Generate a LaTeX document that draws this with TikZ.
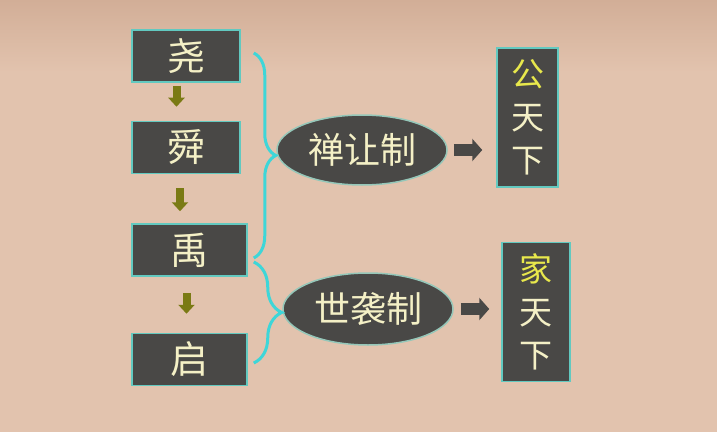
\documentclass[tikz,border=0pt]{standalone}
\usepackage{fontspec}
\setmainfont{Noto Sans CJK SC}
\usetikzlibrary{arrows.meta,decorations.pathreplacing,shapes.geometric}
\definecolor{paper}{HTML}{E2C3AE}
\definecolor{haze}{HTML}{D2AE97}
\definecolor{slate}{HTML}{494846}
\definecolor{rim}{HTML}{62C9C0}
\definecolor{cream}{HTML}{F4F0C6}
\definecolor{gold}{HTML}{E8E84C}
\definecolor{olivegreen}{HTML}{7A7A14}
\definecolor{bracecyan}{HTML}{3ED6D8}

\begin{document}
\begin{tikzpicture}[x=1pt,y=1pt,
    king/.style={draw=rim,line width=1.5pt,fill=slate,text=cream,
                 minimum width=108pt,minimum height=52pt,inner sep=0pt,
                 font=\fontsize{38}{44}\selectfont},
    system/.style={ellipse,draw=rim!60!paper,line width=1.5pt,fill=slate,text=cream,
                   minimum width=170pt,minimum height=70pt,inner sep=0pt,
                   font=\fontsize{36}{42}\selectfont},
    realm/.style={draw=rim,line width=1.5pt,fill=slate,text=cream,
                  minimum width=61pt,minimum height=139pt,inner sep=0pt,
                  align=center,font=\fontsize{33}{43}\selectfont},
    down/.style={olivegreen,line width=8pt,-{Triangle[width=16pt,length=9pt]}},
    push/.style={slate,line width=12pt,-{Triangle[width=22pt,length=10pt]}},
    fork/.style={draw=bracecyan,line width=3pt,decorate}]

  \useasboundingbox (0,0) rectangle (717,432);
  \fill[paper] (0,0) rectangle (717,432);
  \shade[top color=haze,bottom color=paper] (0,432) rectangle (717,360);

  \node[king]                     (yao)  at (186,376)     {尧};
  \node[king]                     (shun) at (186,284.5)   {舜};
  \node[king,minimum width=115pt] (yu)   at (189.5,182)   {禹};
  \node[king,minimum width=115pt] (qi)   at (189.5,72.5)  {启};

  \node[system]                    (chan) at (362,282) {禅让制};
  \node[system,minimum height=72pt] (shi) at (368,123) {世袭制};

  \node[realm]                    (gong) at (527.5,314.5) {\textcolor{gold}{公}\\天\\下};
  \node[realm,minimum width=68pt] (jia)  at (536,120)     {\textcolor{gold}{家}\\天\\下};

  \draw[down,shorten <=3pt,shorten >=14pt]  ([xshift=-9.5pt]yao.south) -- ([xshift=-9.5pt]shun.north);
  \draw[down,shorten <=14pt,shorten >=12pt] ([xshift=-6pt]shun.south)  -- ([xshift=-9.5pt]yu.north);
  \draw[down,shorten <=16pt,shorten >=19pt] ([xshift=-3pt]yu.south)    -- ([xshift=-3pt]qi.north);

  \draw[fork,decoration={brace,amplitude=22pt}]
    ([xshift=13pt,yshift=3pt]yao.east) -- ([xshift=6pt,yshift=-8pt]yu.east);
  \draw[fork,decoration={brace,amplitude=28pt}]
    ([xshift=6pt,yshift=-12pt]yu.east) -- ([xshift=6pt,yshift=-3.5pt]qi.east);

  \draw[push,shorten <=6pt,shorten >=14pt] (chan.east) -- (chan.east -| gong.west);
  \draw[push,shorten <=7pt,shorten >=12pt] (shi.east)  -- (shi.east -| jia.west);
\end{tikzpicture}
\end{document}
